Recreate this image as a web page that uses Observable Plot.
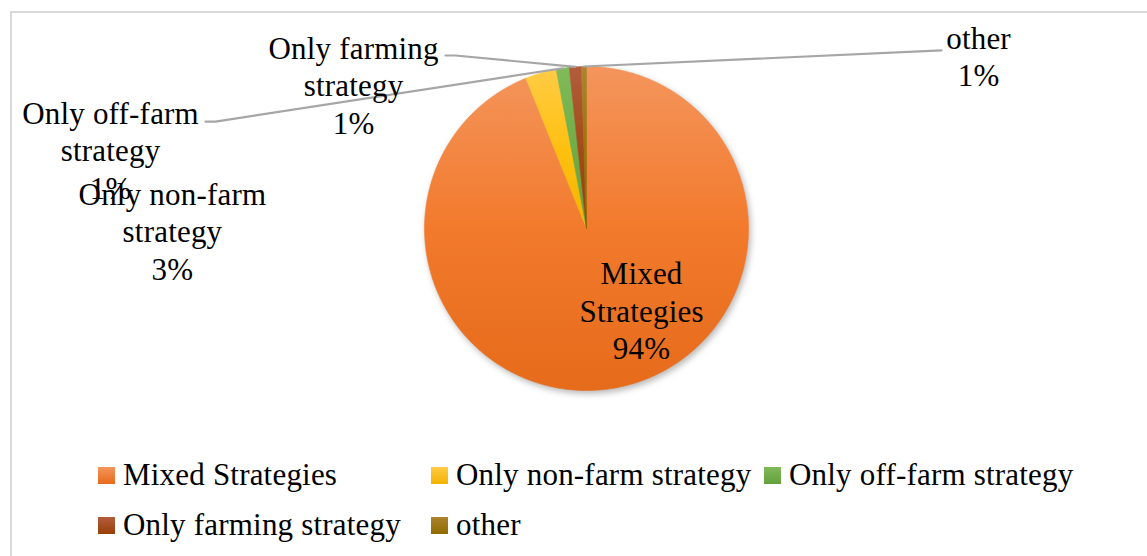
<!DOCTYPE html>
<html>
<head>
<meta charset="utf-8">
<script src="https://cdn.jsdelivr.net/npm/d3@7"></script>
<script src="https://cdn.jsdelivr.net/npm/@observablehq/plot@0.6"></script>
<style>
  html, body { margin: 0; padding: 0; background: #fff; }
  #wrap { position: relative; width: 1147px; height: 556px; overflow: hidden; background: #fff;
          font-family: "Liberation Serif", "Times New Roman", serif; }
  #frame { position: absolute; left: 10px; top: 11px; width: 1300px; height: 700px;
           border: 2px solid #D9D9D9; box-sizing: border-box; }
  #chart { position: absolute; left: 0; top: 0; }
  #legend { position: absolute; left: 98px; top: 450px; display: grid;
            grid-template-columns: 333px 333px 333px; grid-auto-rows: 50px; }
  .item { display: flex; align-items: center; font-size: 31px; letter-spacing: 0.2px; color: #000; white-space: nowrap; }
  .sw { width: 17px; height: 17px; margin-right: 8px; flex: none; }
</style>
</head>
<body>
<div id="wrap">
  <div id="frame"></div>
  <div id="chart"></div>
  <div id="legend"></div>
</div>
<script>
// ---- data ----
const categories = ["Mixed Strategies", "Only non-farm strategy", "Only off-farm strategy", "Only farming strategy", "other"];
const values = [93.9, 3.1, 1.3, 1.2, 0.5];

// ---- styles / layout ----
const gradientStops = [
  ["#F4955C", "#F27A2C", "#E66B1B"],
  ["#FFCB45", "#FFC010", "#F2B300"],
  ["#80BA5A", "#70AD47", "#64A03C"],
  ["#B35C3C", "#A24C1A", "#983F08"],
  ["#AC8430", "#9C7408", "#8F6A00"]
];
const legendBg = gradientStops.map(s => `linear-gradient(to bottom, ${s[0]}, ${s[2]})`);
// label centers and leader-line points in pie-radius units (x right, y up from pie centre)
const labelPos = [[0.34, -0.50], [-2.556, -0.012], [-2.938, 0.49], [-1.438, 0.889], [2.42, 1.068]];
const leaderPts = [null, null, [[-2.290, 0.660], [-2.352, 0.660]], [[-0.809, 1.068], [-0.870, 1.068]], [[2.191, 1.099]]];

const W = 1147, H = 450, CX = 586, CY = 228, R = 162;

// ---- derived geometry from the values ----
const total = d3.sum(values);
let acc = 0;
const slices = categories.map((c, i) => {
  const a0 = acc / total * 2 * Math.PI;
  acc += values[i];
  const a1 = acc / total * 2 * Math.PI;
  return {cat: c, value: values[i], a0, a1, mid: (a0 + a1) / 2, i};
});
const piePts = [];
for (const s of slices) {
  piePts.push({cat: s.cat, x: 0, y: 0});
  const n = Math.max(2, Math.ceil((s.a1 - s.a0) / (Math.PI / 360)));
  for (let k = 0; k <= n; k++) {
    const a = s.a0 + (s.a1 - s.a0) * k / n;
    piePts.push({cat: s.cat, x: Math.sin(a), y: Math.cos(a)});
  }
  piePts.push({cat: s.cat, x: 0, y: 0});
}
const leaders = [];
slices.forEach(s => {
  const p = leaderPts[s.i];
  if (!p) return;
  leaders.push({cat: s.cat, x: Math.sin(s.mid), y: Math.cos(s.mid)});
  p.forEach(q => leaders.push({cat: s.cat, x: q[0], y: q[1]}));
});
const wrap = name => name.replace(/ (\S+)$/, "\n$1");
const labels = slices.map(s => ({
  x: labelPos[s.i][0], y: labelPos[s.i][1],
  text: `${wrap(s.cat)}\n${Math.round(s.value / total * 100)}%`
}));

const plot = Plot.plot({
  width: W, height: H,
  margin: 0,
  style: {fontFamily: '"Liberation Serif", "Times New Roman", serif', letterSpacing: "0.2px", background: "transparent", overflow: "visible"},
  x: {domain: [-CX / R, (W - CX) / R], range: [0, W], axis: null},
  y: {domain: [(CY - H) / R, CY / R], range: [H, 0], axis: null},
  color: {type: "ordinal", domain: categories, range: categories.map((c, i) => `url(#pg${i})`)},
  marks: [
    Plot.line(piePts, {x: "x", y: "y", z: "cat", fill: "cat", stroke: "cat", strokeWidth: 0.6}),
    Plot.line(leaders, {x: "x", y: "y", z: "cat", stroke: "#A6A6A6", strokeWidth: 2.2}),
    Plot.text(labels, {x: "x", y: "y", text: "text", fontSize: 31, lineHeight: 1.21, fill: "#000", textAnchor: "middle"})
  ]
});

// gradient definitions
const ns = "http://www.w3.org/2000/svg";
const defs = document.createElementNS(ns, "defs");
gradientStops.forEach((s, i) => {
  const g = document.createElementNS(ns, "linearGradient");
  g.setAttribute("id", `pg${i}`);
  g.setAttribute("x1", "0"); g.setAttribute("y1", "0");
  g.setAttribute("x2", "0"); g.setAttribute("y2", "1");
  [0, 0.5, 1].forEach((o, k) => {
    const st = document.createElementNS(ns, "stop");
    st.setAttribute("offset", o);
    st.setAttribute("stop-color", s[k]);
    g.appendChild(st);
  });
  defs.appendChild(g);
});
plot.insertBefore(defs, plot.firstChild);
const pieG = plot.querySelector('g[aria-label="line"]');
if (pieG) pieG.style.filter = "drop-shadow(2px 3px 3px rgba(0,0,0,0.28))";
document.getElementById("chart").appendChild(plot);

// legend
const legend = document.getElementById("legend");
categories.forEach((c, i) => {
  const it = document.createElement("div");
  it.className = "item";
  const sw = document.createElement("span");
  sw.className = "sw";
  sw.style.background = legendBg[i];
  it.appendChild(sw);
  it.appendChild(document.createTextNode(c));
  legend.appendChild(it);
});
</script>
</body>
</html>
